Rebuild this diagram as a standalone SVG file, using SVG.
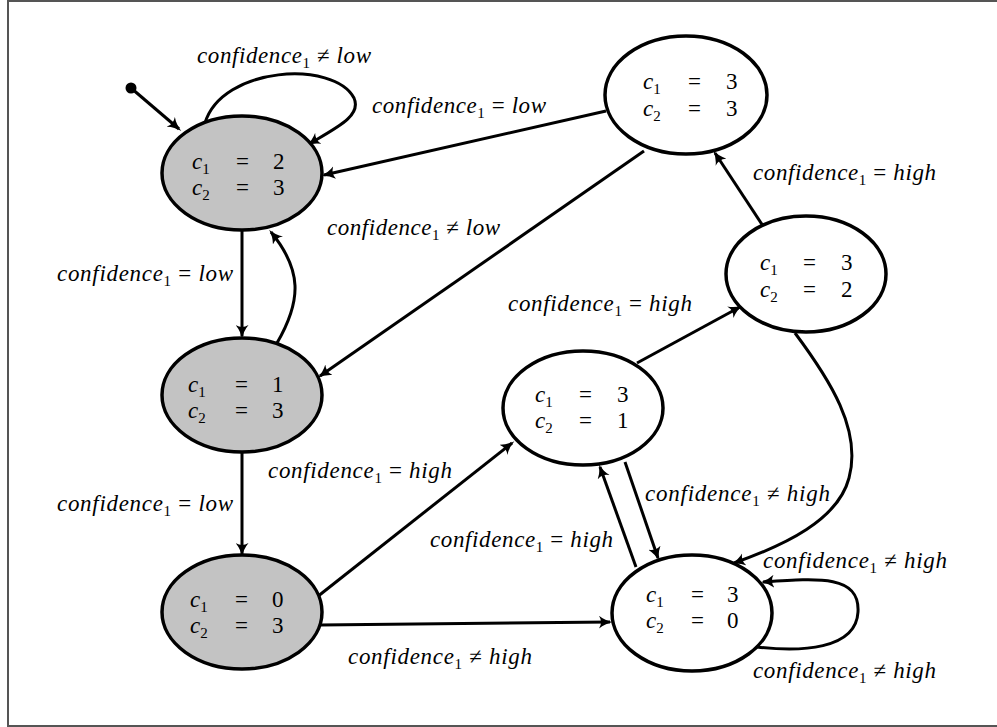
<svg xmlns="http://www.w3.org/2000/svg" width="997" height="727" viewBox="0 0 997 727" font-family="Liberation Serif, Times New Roman, serif">
<style>
text{font-family:"Liberation Serif","Times New Roman",serif;font-size:23px;fill:#000}
.i{font-style:italic}
.s{font-size:15px}
.n{stroke:#000;stroke-width:3.5}
.e{fill:none;stroke:#000;stroke-width:3}
</style>
<defs>
<marker id="arr" markerUnits="userSpaceOnUse" viewBox="0 0 14 13" markerWidth="14" markerHeight="13" refX="11" refY="6.5" orient="auto">
<path d="M0,0 Q6,5 14,6.5 Q6,8 0,13 Q4,6.5 0,0 Z" fill="#000"/>
</marker>
</defs>
<rect x="8" y="1" width="1000" height="725" fill="#fff" stroke="#555" stroke-width="2"/>
<g id="connectors" class="e" marker-end="url(#arr)">
<line x1="131" y1="88" x2="179" y2="129"/>
<path d="M205,123 C222,66 334,60 354,98 C362,116 336,128 309,144"/>
<line x1="606" y1="111" x2="324" y2="175"/>
<line x1="644" y1="151" x2="320" y2="376"/>
<line x1="242" y1="230" x2="242" y2="336"/>
<path d="M277,343 C302,300 302,270 271,232"/>
<line x1="242" y1="452" x2="242" y2="554"/>
<line x1="317" y1="597" x2="512" y2="443"/>
<line x1="320" y1="625" x2="610" y2="622"/>
<line x1="637" y1="363" x2="740" y2="307"/>
<line x1="763" y1="226" x2="715" y2="153"/>
<path d="M795,333 C830,380 862,430 849,478 C838,520 785,545 734,563"/>
<line x1="625" y1="462" x2="658" y2="558"/>
<line x1="636" y1="567" x2="600" y2="467"/>
<path d="M757,647 C800,652 856,650 858,612 C860,575 820,578 763,582"/>
</g>
<circle cx="131" cy="88" r="5.5" fill="#000"/>
<g id="n23"><ellipse class="n" fill="#c3c3c3" cx="242" cy="173" rx="80" ry="57"/>
<text x="192" y="169"><tspan class="i">c</tspan><tspan class="s" dy="5">1</tspan><tspan x="236" dy="-5">=</tspan><tspan x="273">2</tspan></text>
<text x="192" y="195"><tspan class="i">c</tspan><tspan class="s" dy="5">2</tspan><tspan x="236" dy="-5">=</tspan><tspan x="273">3</tspan></text></g>
<g id="n13"><ellipse class="n" fill="#c3c3c3" cx="242" cy="395" rx="80" ry="57"/>
<text x="188" y="392"><tspan class="i">c</tspan><tspan class="s" dy="5">1</tspan><tspan x="235" dy="-5">=</tspan><tspan x="272">1</tspan></text>
<text x="188" y="418"><tspan class="i">c</tspan><tspan class="s" dy="5">2</tspan><tspan x="235" dy="-5">=</tspan><tspan x="272">3</tspan></text></g>
<g id="n03"><ellipse class="n" fill="#c3c3c3" cx="242" cy="612" rx="80" ry="57"/>
<text x="190" y="607"><tspan class="i">c</tspan><tspan class="s" dy="5">1</tspan><tspan x="235" dy="-5">=</tspan><tspan x="272">0</tspan></text>
<text x="190" y="633"><tspan class="i">c</tspan><tspan class="s" dy="5">2</tspan><tspan x="235" dy="-5">=</tspan><tspan x="272">3</tspan></text></g>
<g id="n33"><ellipse class="n" fill="#fff" cx="686" cy="95" rx="81" ry="59"/>
<text x="643" y="89"><tspan class="i">c</tspan><tspan class="s" dy="5">1</tspan><tspan x="688" dy="-5">=</tspan><tspan x="726">3</tspan></text>
<text x="643" y="116"><tspan class="i">c</tspan><tspan class="s" dy="5">2</tspan><tspan x="688" dy="-5">=</tspan><tspan x="726">3</tspan></text></g>
<g id="n32"><ellipse class="n" fill="#fff" cx="806" cy="274" rx="80" ry="58"/>
<text x="760" y="270"><tspan class="i">c</tspan><tspan class="s" dy="5">1</tspan><tspan x="803" dy="-5">=</tspan><tspan x="841">3</tspan></text>
<text x="760" y="297"><tspan class="i">c</tspan><tspan class="s" dy="5">2</tspan><tspan x="803" dy="-5">=</tspan><tspan x="841">2</tspan></text></g>
<g id="n31"><ellipse class="n" fill="#fff" cx="583" cy="408" rx="80" ry="57"/>
<text x="535" y="402"><tspan class="i">c</tspan><tspan class="s" dy="5">1</tspan><tspan x="579" dy="-5">=</tspan><tspan x="617">3</tspan></text>
<text x="535" y="428"><tspan class="i">c</tspan><tspan class="s" dy="5">2</tspan><tspan x="579" dy="-5">=</tspan><tspan x="617">1</tspan></text></g>
<g id="n30"><ellipse class="n" fill="#fff" cx="692" cy="613" rx="80" ry="58"/>
<text x="646" y="602"><tspan class="i">c</tspan><tspan class="s" dy="5">1</tspan><tspan x="691" dy="-5">=</tspan><tspan x="727">3</tspan></text>
<text x="646" y="628"><tspan class="i">c</tspan><tspan class="s" dy="5">2</tspan><tspan x="691" dy="-5">=</tspan><tspan x="727">0</tspan></text></g>
<g id="labels">
<text x="197" y="63" textLength="174"><tspan class="i">confidence</tspan><tspan class="s" dy="5">1</tspan><tspan dy="-5"> ≠ </tspan><tspan class="i">low</tspan></text>
<text x="372" y="113" textLength="174"><tspan class="i">confidence</tspan><tspan class="s" dy="5">1</tspan><tspan dy="-5"> = </tspan><tspan class="i">low</tspan></text>
<text x="327" y="235" textLength="173"><tspan class="i">confidence</tspan><tspan class="s" dy="5">1</tspan><tspan dy="-5"> ≠ </tspan><tspan class="i">low</tspan></text>
<text x="753" y="180" textLength="183"><tspan class="i">confidence</tspan><tspan class="s" dy="5">1</tspan><tspan dy="-5"> = </tspan><tspan class="i">high</tspan></text>
<text x="57" y="281" textLength="176"><tspan class="i">confidence</tspan><tspan class="s" dy="5">1</tspan><tspan dy="-5"> = </tspan><tspan class="i">low</tspan></text>
<text x="508" y="311" textLength="184"><tspan class="i">confidence</tspan><tspan class="s" dy="5">1</tspan><tspan dy="-5"> = </tspan><tspan class="i">high</tspan></text>
<text x="268" y="478" textLength="184"><tspan class="i">confidence</tspan><tspan class="s" dy="5">1</tspan><tspan dy="-5"> = </tspan><tspan class="i">high</tspan></text>
<text x="645" y="501" textLength="185"><tspan class="i">confidence</tspan><tspan class="s" dy="5">1</tspan><tspan dy="-5"> ≠ </tspan><tspan class="i">high</tspan></text>
<text x="57" y="511" textLength="176"><tspan class="i">confidence</tspan><tspan class="s" dy="5">1</tspan><tspan dy="-5"> = </tspan><tspan class="i">low</tspan></text>
<text x="430" y="547" textLength="183"><tspan class="i">confidence</tspan><tspan class="s" dy="5">1</tspan><tspan dy="-5"> = </tspan><tspan class="i">high</tspan></text>
<text x="763" y="568" textLength="184"><tspan class="i">confidence</tspan><tspan class="s" dy="5">1</tspan><tspan dy="-5"> ≠ </tspan><tspan class="i">high</tspan></text>
<text x="348" y="664" textLength="184"><tspan class="i">confidence</tspan><tspan class="s" dy="5">1</tspan><tspan dy="-5"> ≠ </tspan><tspan class="i">high</tspan></text>
<text x="753" y="678" textLength="183"><tspan class="i">confidence</tspan><tspan class="s" dy="5">1</tspan><tspan dy="-5"> ≠ </tspan><tspan class="i">high</tspan></text>
</g>
</svg>
